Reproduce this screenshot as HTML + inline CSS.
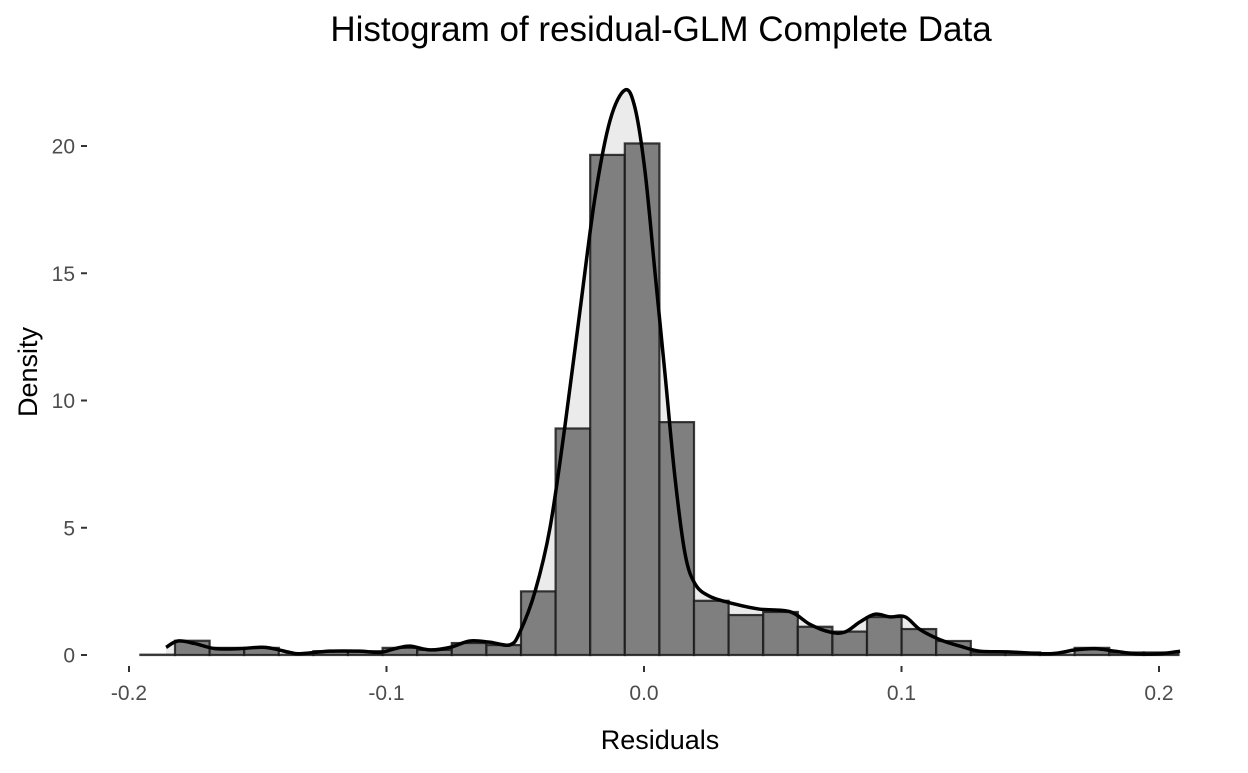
<!DOCTYPE html>
<html><head><meta charset="utf-8"><style>
body{margin:0;background:#fff;}
svg text{font-family:"Liberation Sans",Arial,sans-serif;}
</style></head><body>
<svg id="chart" width="1248" height="768" xmlns="http://www.w3.org/2000/svg">
<text x="661" y="41" text-anchor="middle" font-size="35" fill="#000">Histogram of residual-GLM Complete Data</text>
<g id="area"></g><g id="bars"></g><g id="line"></g><g id="axes"></g>
<text x="660" y="749" text-anchor="middle" font-size="27" fill="#000">Residuals</text>
<text transform="translate(37,372) rotate(-90)" text-anchor="middle" font-size="27" fill="#000">Density</text>
</svg>
<script>
const binStart = -0.19557;
const binWidth = 0.013437;
const binDensity = [0,0.56,0.28,0.28,0,0.15,0.15,0.28,0.2,0.47,0.39,2.5,8.9,19.65,20.1,9.15,2.13,1.57,1.69,1.11,0.92,1.49,1.02,0.55,0.1,0.1,0,0.28,0.1,0.1];
const curveX = [-0.1856,-0.181,-0.1744,-0.1666,-0.1569,-0.1472,-0.1375,-0.1336,-0.1219,-0.1103,-0.1025,-0.0967,-0.0909,-0.0831,-0.0753,-0.0676,-0.0598,-0.052,-0.0482,-0.0423,-0.0365,-0.0307,-0.0249,-0.019,-0.0132,-0.0074,-0.0035,0.0004,0.0043,0.0082,0.012,0.0159,0.0198,0.0256,0.0353,0.045,0.0567,0.0645,0.0722,0.078,0.0839,0.0897,0.0955,0.1014,0.1072,0.115,0.1227,0.1305,0.1421,0.1577,0.1674,0.1751,0.1829,0.1907,0.2004,0.2082];
const curveY = [0.3,0.55,0.45,0.25,0.25,0.3,0.1,0.05,0.15,0.15,0.1,0.25,0.35,0.2,0.3,0.55,0.5,0.4,0.9,2.5,5,9,13.5,18,21,22.2,21.5,19,15,11,7,4,2.8,2.3,2.0,1.8,1.7,1.2,0.9,0.9,1.3,1.6,1.5,1.5,1.0,0.6,0.35,0.15,0.12,0.05,0.2,0.25,0.15,0.05,0.05,0.15];
const xTicks = [-0.2,-0.1,0.0,0.1,0.2];
const xTickLabels = ["-0.2","-0.1","0.0","0.1","0.2"];
const yTicks = [0,5,10,15,20];

const NS="http://www.w3.org/2000/svg";
const xs = v => 644 + v*2575;
const ys = v => 655 - v*25.45;
function mk(tag, parent){const e=document.createElementNS(NS,tag);document.getElementById(parent).appendChild(e);return e;}

let pts = curveX.map((x,i)=>[xs(x),ys(curveY[i])]);
let d = "M"+pts[0][0]+","+pts[0][1];
for(let i=0;i<pts.length-1;i++){
  const p0=pts[Math.max(i-1,0)],p1=pts[i],p2=pts[i+1],p3=pts[Math.min(i+2,pts.length-1)];
  d+=" C"+(p1[0]+(p2[0]-p0[0])/6)+","+(p1[1]+(p2[1]-p0[1])/6)+" "+(p2[0]-(p3[0]-p1[0])/6)+","+(p2[1]-(p3[1]-p1[1])/6)+" "+p2[0]+","+p2[1];
}
const area = mk("path","area");


area.setAttribute("d", d+" L"+pts[pts.length-1][0]+","+ys(0)+" L"+pts[0][0]+","+ys(0)+" Z");
area.setAttribute("fill","#ebebeb");

binDensity.forEach((v,i)=>{
  const x0=xs(binStart+i*binWidth), x1=xs(binStart+(i+1)*binWidth);
  const r=mk("rect","bars");
  
  
  const h=Math.max(ys(0)-ys(v),0.3);
  r.setAttribute("x",x0);r.setAttribute("width",x1-x0);
  r.setAttribute("y",ys(0)-h);r.setAttribute("height",h);
  r.setAttribute("fill","#7f7f7f");r.setAttribute("stroke","#1a1a1a");r.setAttribute("stroke-width","2.2");r.setAttribute("stroke-opacity","0.85");
});

const line = mk("path","line");


line.setAttribute("d",d);line.setAttribute("fill","none");line.setAttribute("stroke","#000");line.setAttribute("stroke-width","3.5");

xTicks.forEach((t,i)=>{
  const l=mk("line","axes");
  
  
  l.setAttribute("x1",xs(t));l.setAttribute("x2",xs(t));l.setAttribute("y1",666);l.setAttribute("y2",672);l.setAttribute("stroke","#333");l.setAttribute("stroke-width","2");
  const tx=mk("text","axes");
  
  
  tx.setAttribute("x",xs(t));tx.setAttribute("y",700);tx.setAttribute("text-anchor","middle");tx.setAttribute("font-size","21");tx.setAttribute("fill","#4d4d4d");
  tx.textContent=xTickLabels[i];
});
yTicks.forEach(t=>{
  const l=mk("line","axes");
  
  
  l.setAttribute("x1",81);l.setAttribute("x2",87);l.setAttribute("y1",ys(t));l.setAttribute("y2",ys(t));l.setAttribute("stroke","#333");l.setAttribute("stroke-width","2");
  const tx=mk("text","axes");
  
  
  tx.setAttribute("x",75);tx.setAttribute("y",ys(t)+7.5);tx.setAttribute("text-anchor","end");tx.setAttribute("font-size","21");tx.setAttribute("fill","#4d4d4d");
  tx.textContent=String(t);
});
</script>
</body></html>
